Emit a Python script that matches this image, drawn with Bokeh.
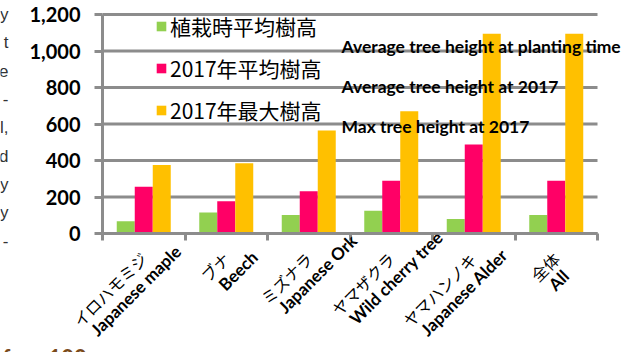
import numpy as np
from bokeh.plotting import figure
from bokeh.models import (ColumnDataSource, LabelSet, Label, Legend, LegendItem,
                          FixedTicker, NumeralTickFormatter, Range1d)
from bokeh.transform import dodge
from bokeh.core.properties import value
from bokeh.embed import file_html
from bokeh.resources import INLINE

# ---- data ----
categories_jp = ["イロハモミジ", "ブナ", "ミズナラ", "ヤマザクラ", "ヤマハンノキ", "全体"]
categories_en = ["Japanese maple", "Beech", "Japanese Ork", "Wild cherry tree", "Japanese  Alder", "All"]
planting_avg = [67, 115, 102, 124, 80, 102]
avg_2017 = [256, 177, 232, 289, 488, 289]
max_2017 = [376, 385, 564, 670, 1094, 1094]
series_jp = ["植栽時平均樹高", "2017年平均樹高", "2017年最大樹高"]
series_en = ["Average tree height at planting time", "Average tree height at 2017", "Max tree height at 2017"]
y_ticks = [0, 200, 400, 600, 800, 1000, 1200]
margin_text = ["y", "t", "e", "-", "l,", "d", "y", "y", "-"]

# ---- layout constants (page pixels) ----
W, H = 634, 352
FL, FR, FT, FB = 102, 597, 14, 233          # plot-area edges
GRAY = "#8c8c8c"
colors = ["#92D050", "#FF0066", "#FFC000"]
ncat = len(categories_jp)
ymax = y_ticks[-1]
pxx = (FR - FL) / ncat
pxy = (FB - FT) / ymax
bw = 18 / pxx
JP_FONT = "Noto Sans CJK JP"
EN_FONT = "Lato"
JP_SIZE = 16

p = figure(width=W, height=H, output_backend="svg", toolbar_location=None,
           x_range=Range1d(-FL / pxx, ncat + (W - FR) / pxx),
           y_range=Range1d(-(H - FB) / pxy, ymax + FT / pxy),
           min_border=0, min_border_left=0, min_border_right=0,
           min_border_top=0, min_border_bottom=0)
p.outline_line_color = None
p.background_fill_color = "white"
p.border_fill_color = "white"

xs = np.arange(ncat) + 0.5
n_jp = np.array([len(s) for s in categories_jp])
L = n_jp * JP_SIZE
c45 = np.sqrt(0.5)
jp_dy = -22
perp, along = 19, 6
en_dx = (-L + perp + along) * c45
en_dy = jp_dy + (-L - perp + along) * c45

src = ColumnDataSource(dict(x=xs, y0=np.zeros(ncat), jp=categories_jp, en=categories_en,
                            p0=planting_avg, p1=avg_2017, p2=max_2017,
                            en_dx=en_dx, en_dy=en_dy))

# horizontal gridlines
p.ygrid.visible = False
p.xgrid.visible = False
p.segment(x0=0, x1=ncat, y0=y_ticks, y1=y_ticks, line_color=GRAY, line_width=3, level="underlay")

renderers = []
for i, (field, c) in enumerate(zip(["p0", "p1", "p2"], colors)):
    r = p.vbar(x=dodge("x", (i - 1) * bw, range=p.x_range), top=field, width=bw,
               source=src, fill_color=c, line_color=None)
    renderers.append(r)

# axes drawn at fixed locations inside the page
p.yaxis.fixed_location = 0
p.yaxis.bounds = (0, ymax)
p.yaxis.ticker = FixedTicker(ticks=y_ticks)
p.yaxis.formatter = NumeralTickFormatter(format="0,0")
p.yaxis.axis_line_color = GRAY
p.yaxis.axis_line_width = 3
p.yaxis.major_tick_line_color = GRAY
p.yaxis.major_tick_line_width = 3
p.yaxis.major_tick_out = 8
p.yaxis.major_tick_in = 0
p.yaxis.minor_tick_line_color = None
p.yaxis.major_label_standoff = 14
p.yaxis.major_label_text_font = EN_FONT
p.yaxis.major_label_text_font_style = "bold"
p.yaxis.major_label_text_font_size = "20px"
p.yaxis.major_label_text_color = "black"

p.xaxis.fixed_location = 0
p.xaxis.bounds = (0, ncat)
p.xaxis.ticker = FixedTicker(ticks=list(range(ncat + 1)))
p.xaxis.major_label_overrides = {k: "" for k in range(ncat + 1)}
p.xaxis.axis_line_color = GRAY
p.xaxis.axis_line_width = 3
p.xaxis.major_tick_line_color = GRAY
p.xaxis.major_tick_line_width = 3
p.xaxis.major_tick_out = 7
p.xaxis.major_tick_in = 0
p.xaxis.minor_tick_line_color = None

# category labels (two rotated lines)
p.add_layout(LabelSet(x="x", y="y0", text="jp", source=src, angle=np.pi / 4,
                      x_offset=0, y_offset=jp_dy, text_align="right", text_baseline="middle",
                      text_font=value(JP_FONT), text_font_size=f"{JP_SIZE}px", text_color="black"))
p.add_layout(LabelSet(x="x", y="y0", text="en", source=src, angle=np.pi / 4,
                      x_offset="en_dx", y_offset="en_dy", text_align="left", text_baseline="middle",
                      text_font=value(EN_FONT), text_font_style="bold", text_font_size="17px",
                      text_color="black"))

# legend (location = bottom-left corner, page pixels from bottom-left)
row_h, gap = 24, 12
leg_h = 3 * row_h + 2 * gap
legend = Legend(items=[LegendItem(label=s, renderers=[r]) for s, r in zip(series_jp, renderers)],
                location=(155, H - (29 + leg_h)), orientation="vertical", padding=0, margin=0,
                spacing=gap, glyph_width=12, glyph_height=12, label_height=row_h, label_standoff=3,
                label_text_font=JP_FONT, label_text_font_size="21px", label_text_color="black",
                border_line_alpha=0, background_fill_alpha=0)
p.add_layout(legend)

# English series annotations
for k, s in enumerate(series_en):
    p.add_layout(Label(x=341, y=H - (46 + 40 * k), x_units="screen", y_units="screen",
                       text=s, text_font=EN_FONT, text_font_style="bold", text_font_size="17.5px",
                       text_color="black", text_baseline="middle", text_align="left"))

# fragments of the surrounding page text
for k, s in enumerate(margin_text):
    p.add_layout(Label(x=8, y=H - (14 + 28.3 * k), x_units="screen", y_units="screen",
                       text=s, text_font="Liberation Sans", text_font_size="17px",
                       text_color="#333333", text_baseline="middle", text_align="right"))
for xpos, s in [(2, "f"), (48, "100")]:
    p.add_layout(Label(x=xpos, y=-5, x_units="screen", y_units="screen",
                       text=s, text_font=EN_FONT, text_font_style="bold", text_font_size="22px",
                       text_color="#7a4a1a", text_baseline="middle", text_align="left"))

open("out.html", "w").write(file_html(p, INLINE))
